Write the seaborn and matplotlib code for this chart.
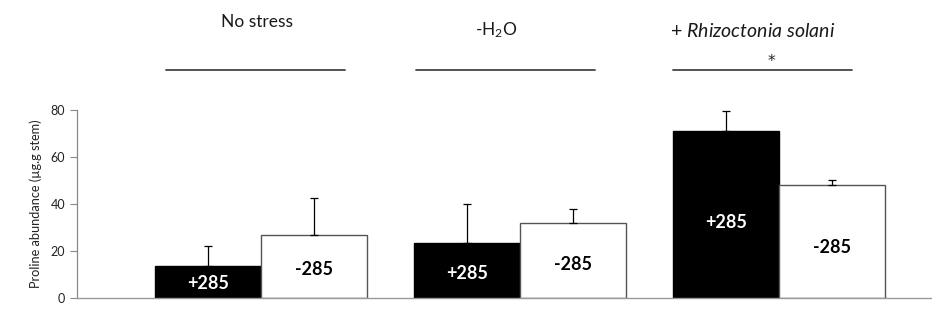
import numpy as np
import pandas as pd
import matplotlib
matplotlib.use("Agg")
import matplotlib.pyplot as plt
import matplotlib.transforms as mtransforms
import seaborn as sns

# Proline abundance per condition and allele
conditions = ["No stress", "-H2O", "+ Rhizoctonia solani"]
alleles = ["+285", "-285"]
mean_plus = [13.6, 23.5, 71.2]
mean_minus = [26.7, 32.0, 48.2]
err_plus = [8.4, 16.5, 8.2]
err_minus = [15.7, 5.9, 2.1]
significance = ["", "", "*"]

df = pd.DataFrame({
    "condition": conditions * 2,
    "allele": [alleles[0]] * 3 + [alleles[1]] * 3,
    "value": mean_plus + mean_minus,
    "err": err_plus + err_minus,
})

sns.set_theme(style="white")
plt.rcParams["font.family"] = ["Lato", "DejaVu Sans"]
plt.rcParams["mathtext.fontset"] = "custom"
plt.rcParams["mathtext.rm"] = "Lato"
plt.rcParams["mathtext.it"] = "Lato:italic"
plt.rcParams["mathtext.bf"] = "Lato:bold"

fig = plt.figure(figsize=(9.32, 3.22), dpi=100)
ax = fig.add_axes([77 / 932, 24 / 322, 1 - 77 / 932, 188 / 322])

sns.barplot(data=df, x="condition", y="value", hue="allele", order=conditions,
            hue_order=alleles, palette={"+285": "black", "-285": "white"},
            width=0.82, errorbar=None, ax=ax, legend=False, saturation=1)

edge = {"+285": "black", "-285": "#555555"}
text_col = {"+285": "white", "-285": "black"}
for container, allele in zip(ax.containers, alleles):
    sub = df[df["allele"] == allele].set_index("condition").loc[conditions]
    xs, hs = [], []
    for bar in container:
        bar.set_edgecolor(edge[allele])
        bar.set_linewidth(1.0)
        xs.append(bar.get_x() + bar.get_width() / 2)
        hs.append(bar.get_height())
    errs = sub["err"].to_numpy()
    ax.errorbar(xs, hs, yerr=[np.zeros_like(errs), errs], fmt="none",
                ecolor="black", elinewidth=0.9, capsize=3, capthick=0.9)
    for x, h in zip(xs, hs):
        ax.text(x, h * 0.45, allele, ha="center", va="center",
                fontsize=13, fontweight="bold", color=text_col[allele])

ax.set_ylim(0, 80)
ax.set_xlim(-0.71, 2.59)
ax.set_yticks([0, 20, 40, 60, 80])
ax.set_xticks([])
ax.set_xlabel("")
ax.set_ylabel("Proline abundance (µg.g stem)", fontsize=9.2, color="#222222", labelpad=6)
ax.tick_params(axis="y", labelsize=9, colors="#222222", length=5, width=0.8,
               direction="out", left=True, color="#888888")
for s in ["top", "right"]:
    ax.spines[s].set_visible(False)
ax.spines["left"].set_color("#888888")
ax.spines["bottom"].set_color("#999999")
ax.spines["left"].set_linewidth(0.9)
ax.spines["bottom"].set_linewidth(1.0)

# Group headers with separator lines above each pair of bars
trans = mtransforms.blended_transform_factory(ax.transData, fig.transFigure)
title_specs = [("No stress", -0.015, 0.932, -0.365, 12.5),
               ("-H$_2$O", -0.09, 0.905, -0.40, 12.5),
               ("+ $\\it{Rhizoctonia\\ solani}$", -0.10, 0.905, -0.41, 14)]
for i, (title, dx, y, x0, fs) in enumerate(title_specs):
    ax.text(i + dx, y, title, transform=trans, ha="center", va="center",
            fontsize=fs, color="#1a1a1a")
    ax.plot([i + x0, i + x0 + 0.69], [0.783, 0.783], transform=trans,
            color="#444444", lw=1.3, clip_on=False)
    if significance[i]:
        ax.text(i - 0.03, 0.808, significance[i], transform=trans, ha="center",
                va="center", fontsize=11, color="#222222", family="DejaVu Sans")

fig.savefig("out.png", dpi=100)
